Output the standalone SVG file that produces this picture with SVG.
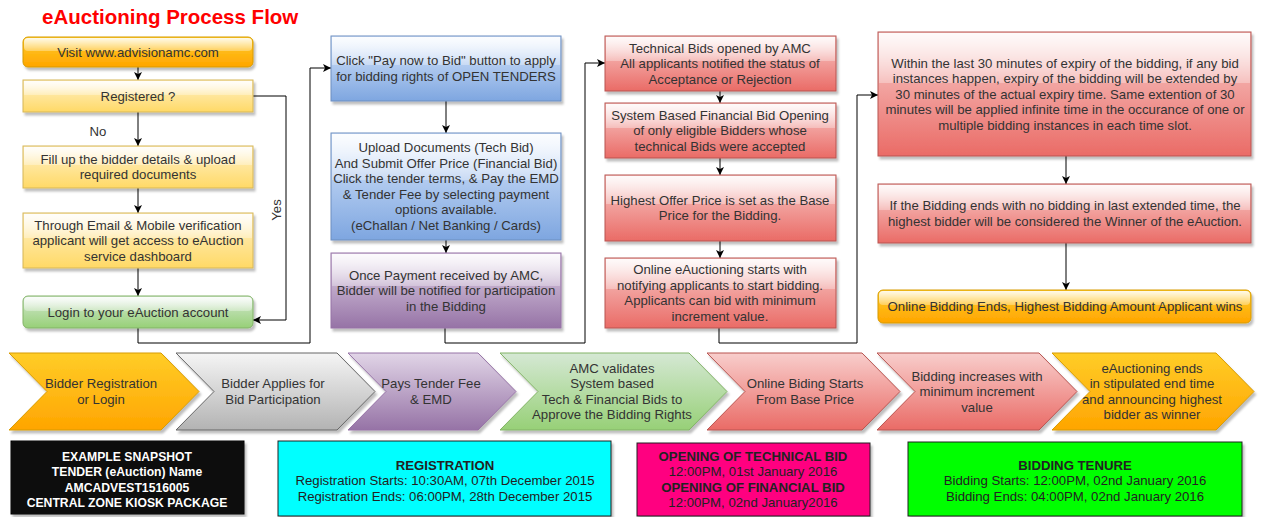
<svg xmlns="http://www.w3.org/2000/svg" width="1262" height="517" viewBox="0 0 1262 517">
<style>
.t{font-family:"Liberation Sans",Arial,sans-serif;font-size:13.2px;fill:#333;text-anchor:middle}
.b{font-weight:bold}
.k{font-size:12.2px;fill:#fff}
.e{fill:none;stroke:#000;stroke-width:1}
.sh{filter:url(#shadow)}
</style>
<defs>
<filter id="shadow" x="-5%" y="-10%" width="115%" height="130%"><feDropShadow dx="2" dy="3" stdDeviation="1" flood-color="#000" flood-opacity="0.25"/></filter>
<linearGradient id="gY" x1="0" y1="0" x2="0" y2="1"><stop offset="0" stop-color="#fff2cc"/><stop offset="1" stop-color="#ffd966"/></linearGradient>
<linearGradient id="gO" x1="0" y1="0" x2="0" y2="1"><stop offset="0" stop-color="#ffcd28"/><stop offset="1" stop-color="#ffa500"/></linearGradient>
<linearGradient id="gG" x1="0" y1="0" x2="0" y2="1"><stop offset="0" stop-color="#d5e8d4"/><stop offset="1" stop-color="#97d077"/></linearGradient>
<linearGradient id="gB" x1="0" y1="0" x2="0" y2="1"><stop offset="0" stop-color="#dae8fc"/><stop offset="1" stop-color="#7ea6e0"/></linearGradient>
<linearGradient id="gP" x1="0" y1="0" x2="0" y2="1"><stop offset="0" stop-color="#e1d5e7"/><stop offset="1" stop-color="#9673a6"/></linearGradient>
<linearGradient id="gR" x1="0" y1="0" x2="0" y2="1"><stop offset="0" stop-color="#f8cecc"/><stop offset="1" stop-color="#ea6b66"/></linearGradient>
<linearGradient id="gS" x1="0" y1="0" x2="0" y2="1"><stop offset="0" stop-color="#f5f5f5"/><stop offset="1" stop-color="#b3b3b3"/></linearGradient>
<linearGradient id="glass" x1="0" y1="0" x2="0" y2="1"><stop offset="0" stop-color="#fff" stop-opacity="0.9"/><stop offset="1" stop-color="#fff" stop-opacity="0.3"/></linearGradient>
<marker id="ar" markerWidth="10" markerHeight="10" refX="8" refY="4" orient="auto" markerUnits="userSpaceOnUse"><path d="M0,0 L8,4 L0,8 L2,4 z" fill="#000"/></marker>
</defs>
<rect width="1262" height="517" fill="#fff"/>
<text x="42" y="24" style="font-family:'Liberation Sans',Arial,sans-serif;font-size:20.5px;font-weight:bold;fill:#ff0000">eAuctioning Process Flow</text>

<g id="edges">
<path class="e" d="M138,67 V80" marker-end="url(#ar)"/>
<path class="e" d="M138,112 V146" marker-end="url(#ar)"/>
<path class="e" d="M138,188 V213" marker-end="url(#ar)"/>
<path class="e" d="M138,268 V296" marker-end="url(#ar)"/>
<path class="e" d="M253,96 H286 V320 H253" marker-end="url(#ar)"/>
<path class="e" d="M138,328 V343 H310 V68 H331" marker-end="url(#ar)"/>
<path class="e" d="M446,101 V133" marker-end="url(#ar)"/>
<path class="e" d="M446,240 V253" marker-end="url(#ar)"/>
<path class="e" d="M445,328 V343 H585 V63 H605" marker-end="url(#ar)"/>
<path class="e" d="M720,91 V103" marker-end="url(#ar)"/>
<path class="e" d="M720,158 V175" marker-end="url(#ar)"/>
<path class="e" d="M720,241 V258" marker-end="url(#ar)"/>
<path class="e" d="M719,328 V343 H857 V95 H878" marker-end="url(#ar)"/>
<path class="e" d="M1066,156 V184" marker-end="url(#ar)"/>
<path class="e" d="M1066,243 V290" marker-end="url(#ar)"/>
<text class="t" x="98" y="136">No</text>
<text class="t" transform="translate(281,210) rotate(-90)">Yes</text>
</g>

<g id="n-visit">
<rect class="sh" x="23" y="37" width="230" height="30" rx="5" fill="url(#gO)" stroke="#d79b00"/>
<rect x="24" y="38" width="228" height="13" rx="4" fill="url(#glass)"/>
<text class="t" x="138" y="56.5">Visit www.advisionamc.com</text>
</g>
<g id="n-registered">
<rect class="sh" x="23" y="80" width="230" height="32" fill="url(#gY)" stroke="#d6b656"/>
<rect x="24" y="81" width="228" height="14" fill="url(#glass)"/>
<text class="t" x="138" y="100.5">Registered ?</text>
</g>
<g id="n-fill">
<rect class="sh" x="23" y="146" width="230" height="42" fill="url(#gY)" stroke="#d6b656"/>
<rect x="24" y="147" width="228" height="18" fill="url(#glass)"/>
<text class="t" x="138" y="163.8">Fill up the bidder details &amp; upload</text>
<text class="t" x="138" y="179.3">required documents</text>
</g>
<g id="n-verify">
<rect class="sh" x="23" y="213" width="230" height="55" fill="url(#gY)" stroke="#d6b656"/>
<rect x="24" y="214" width="228" height="24" fill="url(#glass)"/>
<text class="t" x="138" y="229.5">Through Email &amp; Mobile verification</text>
<text class="t" x="138" y="245">applicant will get access to eAuction</text>
<text class="t" x="138" y="260.5">service dashboard</text>
</g>
<g id="n-login">
<rect class="sh" x="23" y="296" width="230" height="32" rx="5" fill="url(#gG)" stroke="#82b366"/>
<rect x="24" y="297" width="228" height="14" rx="4" fill="url(#glass)"/>
<text class="t" x="138" y="316.5">Login to your eAuction account</text>
</g>

<g id="n-paynow">
<rect class="sh" x="331" y="36" width="230" height="65" fill="url(#gB)" stroke="#6c8ebf"/>
<rect x="332" y="37" width="228" height="28" fill="url(#glass)"/>
<text class="t" x="446" y="65.2">Click "Pay now to Bid" button to apply</text>
<text class="t" x="446" y="80.7">for bidding rights of OPEN TENDERS</text>
</g>
<g id="n-upload">
<rect class="sh" x="331" y="133" width="230" height="107" fill="url(#gB)" stroke="#6c8ebf"/>
<rect x="332" y="134" width="228" height="46" fill="url(#glass)"/>
<text class="t" x="446" y="152.2">Upload Documents (Tech Bid)</text>
<text class="t" x="446" y="167.7">And Submit Offer Price (Financial Bid)</text>
<text class="t" x="446" y="183.2">Click the tender terms, &amp; Pay the EMD</text>
<text class="t" x="446" y="198.7">&amp; Tender Fee by selecting payment</text>
<text class="t" x="446" y="214.2">options available.</text>
<text class="t" x="446" y="229.7">(eChallan / Net Banking / Cards)</text>
</g>
<g id="n-payment">
<rect class="sh" x="331" y="253" width="230" height="75" fill="url(#gP)" stroke="#9673a6"/>
<rect x="332" y="254" width="228" height="32" fill="url(#glass)"/>
<text class="t" x="446" y="279.5">Once Payment received by AMC,</text>
<text class="t" x="446" y="295">Bidder will be notified for participation</text>
<text class="t" x="446" y="310.5">in the Bidding</text>
</g>

<g id="n-tech">
<rect class="sh" x="605" y="36" width="231" height="55" fill="url(#gR)" stroke="#b85450"/>
<rect x="606" y="37" width="229" height="24" fill="url(#glass)"/>
<text class="t" x="720" y="52.5">Technical Bids opened by AMC</text>
<text class="t" x="720" y="68">All applicants notified the status of</text>
<text class="t" x="720" y="83.5">Acceptance or Rejection</text>
</g>
<g id="n-financial">
<rect class="sh" x="605" y="103" width="231" height="55" fill="url(#gR)" stroke="#b85450"/>
<rect x="606" y="104" width="229" height="24" fill="url(#glass)"/>
<text class="t" x="720" y="119.5">System Based Financial Bid Opening</text>
<text class="t" x="720" y="135">of only eligible Bidders whose</text>
<text class="t" x="720" y="150.5">technical Bids were accepted</text>
</g>
<g id="n-highest">
<rect class="sh" x="605" y="175" width="231" height="66" fill="url(#gR)" stroke="#b85450"/>
<rect x="606" y="176" width="229" height="28" fill="url(#glass)"/>
<text class="t" x="720" y="204.7">Highest Offer Price is set as the Base</text>
<text class="t" x="720" y="220.2">Price for the Bidding.</text>
</g>
<g id="n-online">
<rect class="sh" x="605" y="258" width="231" height="70" fill="url(#gR)" stroke="#b85450"/>
<rect x="606" y="259" width="229" height="30" fill="url(#glass)"/>
<text class="t" x="720" y="274.2">Online eAuctioning starts with</text>
<text class="t" x="720" y="289.7">notifying applicants to start bidding.</text>
<text class="t" x="720" y="305.2">Applicants can bid with minimum</text>
<text class="t" x="720" y="320.7">increment value.</text>
</g>

<g id="n-within">
<rect class="sh" x="878" y="32" width="373" height="124" fill="url(#gR)" stroke="#b85450"/>
<rect x="879" y="33" width="371" height="50" fill="url(#glass)"/>
<text class="t" x="1065" y="67.5">Within the last 30 minutes of expiry of the bidding, if any bid</text>
<text class="t" x="1065" y="83">instances happen, expiry of the bidding will be extended by</text>
<text class="t" x="1065" y="98.5">30 minutes of the actual expiry time. Same extention of 30</text>
<text class="t" x="1065" y="114">minutes will be applied infinite time in the occurance of one or</text>
<text class="t" x="1065" y="129.5">multiple bidding instances in each time slot.</text>
</g>
<g id="n-ifends">
<rect class="sh" x="878" y="184" width="373" height="59" fill="url(#gR)" stroke="#b85450"/>
<rect x="879" y="185" width="371" height="25" fill="url(#glass)"/>
<text class="t" x="1065" y="210.2">If the Bidding ends with no bidding in last extended time, the</text>
<text class="t" x="1065" y="225.7">highest bidder will be considered the Winner of the eAuction.</text>
</g>
<g id="n-ends">
<rect class="sh" x="878" y="290" width="373" height="33" rx="5" fill="url(#gO)" stroke="#d79b00"/>
<rect x="879" y="291" width="371" height="14" rx="4" fill="url(#glass)"/>
<text class="t" x="1065" y="311">Online Bidding Ends, Highest Bidding Amount Applicant wins</text>
</g>

<g id="c1">
<polygon class="sh" points="9,353 161,353 199,391.5 161,430 9,430 47,391.5" fill="url(#gO)" stroke="#d79b00"/>
<text class="t" x="101" y="388.2">Bidder Registration</text>
<text class="t" x="101" y="403.7">or Login</text>
</g>
<g id="c2">
<polygon class="sh" points="176,353 337,353 375,391.5 337,430 176,430 214,391.5" fill="url(#gS)" stroke="#666"/>
<text class="t" x="273" y="388.2">Bidder Applies for</text>
<text class="t" x="273" y="403.7">Bid Participation</text>
</g>
<g id="c3">
<polygon class="sh" points="348,353 478,353 516,391.5 478,430 348,430 386,391.5" fill="url(#gP)" stroke="#9673a6"/>
<text class="t" x="431" y="388.2">Pays Tender Fee</text>
<text class="t" x="431" y="403.7">&amp; EMD</text>
</g>
<g id="c4">
<polygon class="sh" points="500,353 689,353 727,391.5 689,430 500,430 538,391.5" fill="url(#gG)" stroke="#82b366"/>
<text class="t" x="612" y="372.7">AMC validates</text>
<text class="t" x="612" y="388.2">System based</text>
<text class="t" x="612" y="403.7">Tech &amp; Financial Bids to</text>
<text class="t" x="612" y="419.2">Approve the Bidding Rights</text>
</g>
<g id="c5">
<polygon class="sh" points="707,353 862,353 900,391.5 862,430 707,430 745,391.5" fill="url(#gR)" stroke="#b85450"/>
<text class="t" x="805" y="388.2">Online Biding Starts</text>
<text class="t" x="805" y="403.7">From Base Price</text>
</g>
<g id="c6">
<polygon class="sh" points="877,353 1039,353 1077,391.5 1039,430 877,430 915,391.5" fill="url(#gR)" stroke="#b85450"/>
<text class="t" x="977" y="380.5">Bidding increases with</text>
<text class="t" x="977" y="396">minimum increment</text>
<text class="t" x="977" y="411.5">value</text>
</g>
<g id="c7">
<polygon class="sh" points="1052,353 1216,353 1254,391.5 1216,430 1052,430 1090,391.5" fill="url(#gO)" stroke="#d79b00"/>
<text class="t" x="1152" y="372.7">eAuctioning ends</text>
<text class="t" x="1152" y="388.2">in stipulated end time</text>
<text class="t" x="1152" y="403.7">and announcing highest</text>
<text class="t" x="1152" y="419.2">bidder as winner</text>
</g>

<g id="b-snapshot">
<rect class="sh" x="11" y="441" width="233" height="73" fill="#111" stroke="#000"/>
<text class="t b k" x="127" y="460.5">EXAMPLE SNAPSHOT</text>
<text class="t b k" x="127" y="476">TENDER (eAuction) Name</text>
<text class="t b k" x="127" y="491.5">AMCADVEST1516005</text>
<text class="t b k" x="127" y="507">CENTRAL ZONE KIOSK PACKAGE</text>
</g>
<g id="b-registration">
<rect class="sh" x="278" y="441" width="333" height="75" fill="#00ffff" stroke="#222"/>
<text class="t b" x="445" y="469.5" style="fill:#222">REGISTRATION</text>
<text class="t" x="445" y="485" style="fill:#222">Registration Starts: 10:30AM, 07th December 2015</text>
<text class="t" x="445" y="500.5" style="fill:#222">Registration Ends: 06:00PM, 28th December 2015</text>
</g>
<g id="b-opening">
<rect class="sh" x="637" y="443" width="233" height="73" fill="#ff0080" stroke="#222"/>
<text class="t b" x="753" y="460.5" style="fill:#222">OPENING OF TECHNICAL BID</text>
<text class="t" x="753" y="476" style="fill:#222">12:00PM, 01st January 2016</text>
<text class="t b" x="753" y="491.5" style="fill:#222">OPENING OF FINANCIAL BID</text>
<text class="t" x="753" y="507" style="fill:#222">12:00PM, 02nd January2016</text>
</g>
<g id="b-tenure">
<rect class="sh" x="908" y="442" width="334" height="74" fill="#00ff00" stroke="#222"/>
<text class="t b" x="1075" y="469.5" style="fill:#222">BIDDING TENURE</text>
<text class="t" x="1075" y="485" style="fill:#222">Bidding Starts: 12:00PM, 02nd January 2016</text>
<text class="t" x="1075" y="500.5" style="fill:#222">Bidding Ends: 04:00PM, 02nd January 2016</text>
</g>
</svg>
